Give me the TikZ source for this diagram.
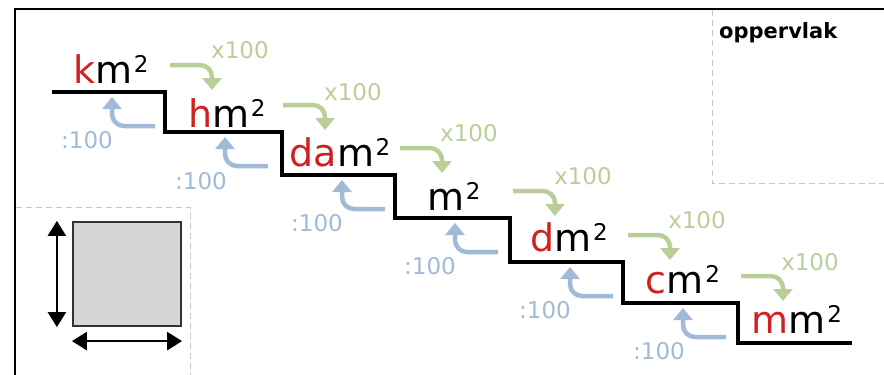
\documentclass[tikz,border=0pt]{standalone}
\usepackage{fontspec}
\setmainfont{DejaVu Sans}
\usepackage{tikz}
\usetikzlibrary{arrows.meta}

\definecolor{prefred}{RGB}{208,32,32}
\definecolor{mulgreen}{RGB}{186,207,152}
\definecolor{divblue}{RGB}{161,186,216}
\newcommand{\pre}[1]{\textcolor{prefred}{#1}}
\newcommand{\sqr}{\kern1.5pt\raisebox{11pt}{\fontsize{23}{23}\selectfont 2}}

\begin{document}
\begin{tikzpicture}[x=1pt,y=-1pt,
unit/.style={anchor=base,inner sep=0pt,font=\fontsize{38}{40}\selectfont},
times/.style={draw=mulgreen,line width=4.5pt,rounded corners=12pt,
  -{Triangle[width=19pt,length=12pt]},to path={-| (\tikztotarget)}},
divide/.style={draw=divblue,line width=4.5pt,rounded corners=12pt,
  -{Triangle[width=19pt,length=12pt]},to path={-| (\tikztotarget)}},
mul/.style={text=mulgreen,inner sep=0pt,font=\fontsize{23}{25}\selectfont},
div/.style={text=divblue,inner sep=0pt,font=\fontsize{23}{25}\selectfont},
dim/.style={line width=2.5pt,{Triangle[width=18pt,length=15pt]}-{Triangle[width=18pt,length=15pt]}},
box/.style={dashed,dash pattern=on 6pt off 4pt,draw=black!22,line width=1pt}]

\useasboundingbox (0,0) rectangle (884,375);

% frame
\draw[line width=2.2pt] (15,375) -- (15,9) -- (884,9);

% dashed corners
\draw[box] (712,10) -- (712,183) -- (884,183);
\draw[box] (16,207) -- (190,207) -- (190,375);
\node[anchor=west,inner sep=0pt,font=\fontsize{21}{23}\selectfont\bfseries] (title) at (719,33) {oppervlak};

% the stairs
\draw[line width=3.5pt] (52,92) -- (165,92) -- (165,132) -- (282,132) -- (282,175)
  -- (395,175) -- (395,218) -- (510,218) -- (510,262) -- (623,262) -- (623,303)
  -- (738,303) -- (738,343) -- (852,343);

\node[unit] (km)  at (111,83)  {\pre{k}m\sqr};
\node[unit] (hm)  at (227,127) {\pre{h}m\sqr};
\node[unit] (dam) at (340,166) {\pre{da}m\sqr};
\node[unit] (m)   at (454,210) {m\sqr};
\node[unit] (dm)  at (569,251) {\pre{d}m\sqr};
\node[unit] (cm)  at (683,293) {\pre{c}m\sqr};
\node[unit] (mm)  at (797,333) {\pre{m}m\sqr};

% x100 downwards
\coordinate (ga0) at (170,65);  \coordinate (gb0) at (212,90);
\coordinate (ga1) at (283,105); \coordinate (gb1) at (325,130);
\coordinate (ga2) at (400,148); \coordinate (gb2) at (442,173);
\coordinate (ga3) at (513,191); \coordinate (gb3) at (555,216);
\coordinate (ga4) at (628,235); \coordinate (gb4) at (670,260);
\coordinate (ga5) at (741,276); \coordinate (gb5) at (783,301);

\path
(ga0) edge[times] (gb0)
(ga1) edge[times] (gb1)
(ga2) edge[times] (gb2)
(ga3) edge[times] (gb3)
(ga4) edge[times] (gb4)
(ga5) edge[times] (gb5);

\node[mul] (x0) at (240,50)  {x100};
\node[mul] (x1) at (353,92)  {x100};
\node[mul] (x2) at (469,133) {x100};
\node[mul] (x3) at (583,176) {x100};
\node[mul] (x4) at (697,220) {x100};
\node[mul] (x5) at (810,262) {x100};

% :100 upwards
\coordinate (ba0) at (155,126); \coordinate (bb0) at (112,97);
\coordinate (ba1) at (268,166); \coordinate (bb1) at (225,137);
\coordinate (ba2) at (385,209); \coordinate (bb2) at (342,180);
\coordinate (ba3) at (498,252); \coordinate (bb3) at (455,223);
\coordinate (ba4) at (613,296); \coordinate (bb4) at (570,267);
\coordinate (ba5) at (726,337); \coordinate (bb5) at (683,308);

\path
(ba0) edge[divide] (bb0)
(ba1) edge[divide] (bb1)
(ba2) edge[divide] (bb2)
(ba3) edge[divide] (bb3)
(ba4) edge[divide] (bb4)
(ba5) edge[divide] (bb5);

\node[div] (d0) at (87,140)  {:100};
\node[div] (d1) at (201,181) {:100};
\node[div] (d2) at (317,223) {:100};
\node[div] (d3) at (430,266) {:100};
\node[div] (d4) at (545,310) {:100};
\node[div] (d5) at (659,351) {:100};

% the square
\node[draw=black!80,line width=2.2pt,fill=black!16,minimum width=108pt,minimum height=104pt,inner sep=0pt]
  (sq) at (127,274) {};
\coordinate (vt) at ([xshift=-15pt]sq.north west);
\coordinate (vb) at ([xshift=-15pt]sq.south west);
\coordinate (hl) at ([yshift=-14pt]sq.south west);
\coordinate (hr) at ([yshift=-14pt]sq.south east);
\draw[dim] (vt) -- (vb);
\draw[dim] (hl) -- (hr);

\end{tikzpicture}
\end{document}
